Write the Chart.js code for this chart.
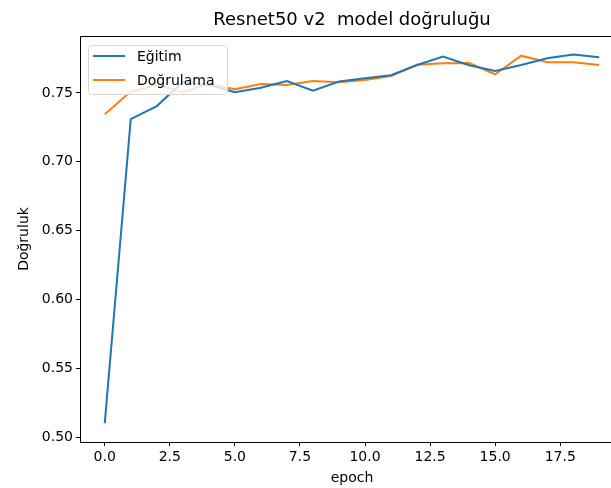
<!DOCTYPE html>
<html lang="tr">
<head>
<meta charset="UTF-8">
<title>Resnet50 v2 model doğruluğu</title>
<script src="https://cdn.jsdelivr.net/npm/chart.js"></script>
<style>
  body { margin: 0; background: #fff; overflow: hidden; }
  #wrap { width: 640px; height: 488px; }
</style>
</head>
<body>
<div id="wrap"><canvas id="chart"></canvas></div>
<script>
const epochs = [0, 1, 2, 3, 4, 5, 6, 7, 8, 9, 10, 11, 12, 13, 14, 15, 16, 17, 18, 19];
const egitim = [0.510, 0.731, 0.7405, 0.758, 0.756, 0.7505, 0.7538, 0.7587, 0.7517, 0.7583,
                0.7607, 0.7629, 0.7703, 0.7764, 0.7702, 0.766, 0.7703, 0.7752, 0.778, 0.776];
const dogrulama = [0.7345, 0.751, 0.7558, 0.7507, 0.7565, 0.7527, 0.7565, 0.7558, 0.7587, 0.7578,
                   0.7595, 0.7624, 0.7705, 0.7716, 0.7718, 0.7636, 0.7771, 0.7723, 0.7723, 0.7703];
const xTicks = [0, 2.5, 5, 7.5, 10, 12.5, 15, 17.5];
const yTicks = [0.50, 0.55, 0.60, 0.65, 0.70, 0.75];
const chartTitle = 'Resnet50 v2  model doğruluğu';

const FONT = 'DejaVu Sans';
const toPoints = vals => vals.map((v, i) => ({ x: epochs[i], y: v }));

// all four spines, and the title centred over the plot like matplotlib does
const frame = {
  id: 'frame',
  afterDatasetsDraw(chart) {
    const { ctx, chartArea: a } = chart;
    ctx.save();
    ctx.strokeStyle = '#000';
    ctx.lineWidth = 1;
    ctx.strokeRect(Math.round(a.left) + 0.5, Math.round(a.top) + 0.5,
                   Math.round(a.right - a.left), Math.round(a.bottom - a.top));
    ctx.fillStyle = '#000';
    ctx.font = '18px "' + FONT + '"';
    ctx.textAlign = 'center';
    ctx.textBaseline = 'middle';
    ctx.fillText(chartTitle, (a.left + a.right) / 2, a.top - 16);
    ctx.restore();
  }
};

// matplotlib-like legend in the upper left corner of the plot
const innerLegend = {
  id: 'innerLegend',
  afterDraw(chart) {
    const { ctx, chartArea: a } = chart;
    const x0 = a.left + 8, y0 = a.top + 9, w = 139, h = 49;
    ctx.save();
    ctx.beginPath();
    ctx.roundRect(x0 + 0.5, y0 + 0.5, w, h, 3);
    ctx.fillStyle = 'rgba(255,255,255,0.8)';
    ctx.fill();
    ctx.strokeStyle = '#d6d6d6';
    ctx.lineWidth = 1;
    ctx.stroke();
    ctx.font = '14px "' + FONT + '"';
    ctx.textBaseline = 'middle';
    chart.data.datasets.forEach((ds, i) => {
      const y = y0 + 11 + i * 24;
      ctx.beginPath();
      ctx.moveTo(x0 + 5, y);
      ctx.lineTo(x0 + 37, y);
      ctx.strokeStyle = ds.borderColor;
      ctx.lineWidth = 2;
      ctx.stroke();
      ctx.fillStyle = '#000';
      ctx.fillText(ds.label, x0 + 49, y + 1);
    });
    ctx.restore();
  }
};

new Chart(document.getElementById('chart'), {
  type: 'line',
  data: {
    datasets: [
      { label: 'Eğitim', data: toPoints(egitim), borderColor: '#1f77b4', borderWidth: 2, pointRadius: 0, fill: false },
      { label: 'Doğrulama', data: toPoints(dogrulama), borderColor: '#ff7f0e', borderWidth: 2, pointRadius: 0, fill: false }
    ]
  },
  options: {
    responsive: true,
    maintainAspectRatio: false,
    animation: false,
    layout: { padding: { left: 0, right: 16, top: 36, bottom: 0 } },
    plugins: {
      legend: { display: false },
      tooltip: { enabled: false },
      title: { display: false }
    },
    scales: {
      x: {
        type: 'linear',
        min: -0.95,
        max: 19.95,
        afterBuildTicks: s => { s.ticks = xTicks.map(v => ({ value: v })); },
        afterFit: s => { s.height = 46; },
        border: { display: false },
        grid: { drawOnChartArea: false, drawTicks: true, tickLength: 4, color: '#000' },
        ticks: { color: '#000', padding: 3, maxRotation: 0, font: { family: FONT, size: 14 },
                 callback: v => v.toFixed(1) },
        title: { display: true, text: 'epoch', color: '#000', font: { family: FONT, size: 14 },
                 padding: { top: 0, bottom: 1 } }
      },
      y: {
        min: 0.4964,
        max: 0.7914,
        afterBuildTicks: s => { s.ticks = yTicks.map(v => ({ value: v })); },
        afterFit: s => { s.width = 80; },
        border: { display: false },
        grid: { drawOnChartArea: false, drawTicks: true, tickLength: 4, color: '#000' },
        ticks: { color: '#000', padding: 3, font: { family: FONT, size: 14 },
                 callback: v => v.toFixed(2) },
        title: { display: true, text: 'Doğruluk', color: '#000', font: { family: FONT, size: 14 },
                 padding: { top: 16, bottom: 0 } }
      }
    }
  },
  plugins: [frame, innerLegend]
});
</script>
</body>
</html>
